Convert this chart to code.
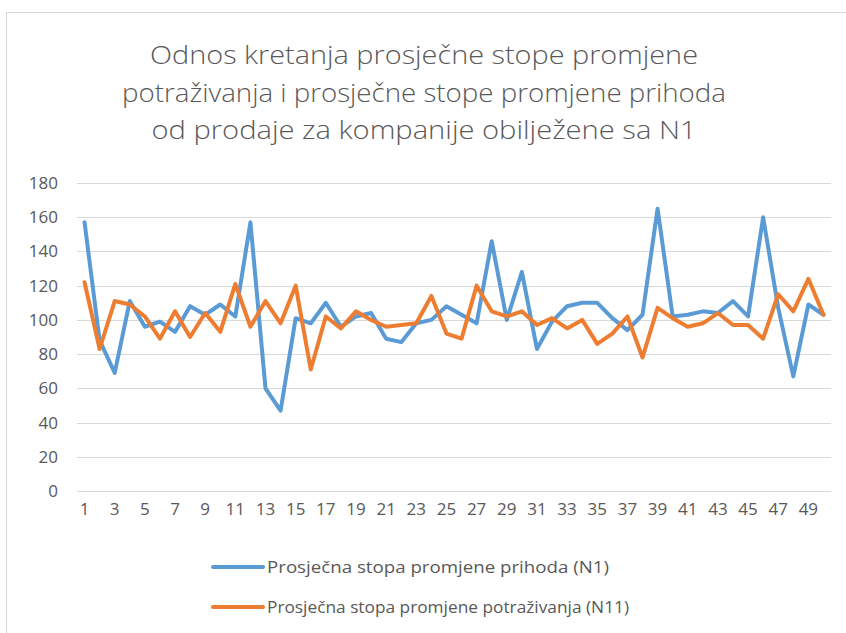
<!DOCTYPE html>
<html>
<head>
<meta charset="utf-8">
<script src="https://cdn.jsdelivr.net/npm/d3@7"></script>
<style>
  body { margin: 0; background: #fff; }
  text { font-family: "Open Sans", "DejaVu Sans", sans-serif; fill: #595959; }
</style>
</head>
<body>
<script>
const {select, scaleBand, scaleLinear, line, range} = d3;

const width = 846;
const height = 633;

// data
const titleLines = [
  "Odnos kretanja prosječne stope promjene",
  "potraživanja i prosječne stope promjene prihoda",
  "od prodaje za kompanije obilježene sa N1"
];
const titleWidths = [548, 604, 545];
const categories = range(1, 51);
const prihodi = [157, 88, 69, 111, 96, 99, 93, 108, 103, 109, 102, 157, 60, 47, 101,
  98, 110, 96, 102, 104, 89, 87, 98, 100, 108, 103, 98, 146, 100, 128,
  83, 99, 108, 110, 110, 101, 94, 103, 165, 102, 103, 105, 104, 111, 102,
  160, 107, 67, 109, 103];
const potrazivanja = [122, 83, 111, 109, 102, 89, 105, 90, 104, 93, 121, 96, 111, 98, 120,
  71, 102, 95, 105, 100, 96, 97, 98, 114, 92, 89, 120, 105, 102, 105,
  97, 101, 95, 100, 86, 92, 102, 78, 107, 101, 96, 98, 104, 97, 97,
  89, 115, 105, 124, 103];
const yTicks = [0, 20, 40, 60, 80, 100, 120, 140, 160, 180];
const series = [
  {name: "Prosječna stopa promjene prihoda (N1)", values: prihodi, color: "#5B9BD5", len: 342},
  {name: "Prosječna stopa promjene potraživanja (N11)", values: potrazivanja, color: "#ED7D31", len: 362}
];

const margin = {top: 183, right: 15, bottom: 142, left: 77};

const svg = select('body')
  .append('svg')
  .attr('width', width)
  .attr('height', height);

// chart area border
svg.append('rect')
  .attr('x', 6.5)
  .attr('y', 12.5)
  .attr('width', width)
  .attr('height', height)
  .attr('fill', 'none')
  .attr('stroke', '#d9d9d9');

svg.selectAll('.title')
  .data(titleLines)
  .enter()
  .append('text')
  .attr('class', 'title')
  .attr('x', 424)
  .attr('y', (d, i) => 64 + i * 37.5)
  .attr('text-anchor', 'middle')
  .attr('textLength', (d, i) => titleWidths[i])
  .attr('lengthAdjust', 'spacingAndGlyphs')
  .style('font-size', '25px')
  .style('font-weight', 300)
  .text(d => d);

const x = scaleBand()
  .domain(categories)
  .range([margin.left, width - margin.right]);

const y = scaleLinear()
  .domain([0, 180])
  .range([height - margin.bottom, margin.top]);

// gridlines
svg.selectAll('.grid')
  .data(yTicks)
  .enter()
  .append('line')
  .attr('x1', margin.left)
  .attr('x2', width - margin.right)
  .attr('y1', d => Math.round(y(d)) + 0.5)
  .attr('y2', d => Math.round(y(d)) + 0.5)
  .attr('stroke', '#d9d9d9')
  .attr('stroke-width', 1);

svg.selectAll('.ylab')
  .data(yTicks)
  .enter()
  .append('text')
  .attr('x', 58)
  .attr('y', d => y(d))
  .attr('dy', '0.35em')
  .attr('text-anchor', 'end')
  .style('font-size', '17px')
  .text(d => d);

svg.selectAll('.xlab')
  .data(categories.filter(d => d % 2 === 1))
  .enter()
  .append('text')
  .attr('x', d => x(d) + x.bandwidth() / 2)
  .attr('y', 509)
  .attr('dy', '0.35em')
  .attr('text-anchor', 'middle')
  .style('font-size', '17px')
  .text(d => d);

const path = line()
  .x((d, i) => x(categories[i]) + x.bandwidth() / 2)
  .y(d => y(d));

svg.selectAll('.series')
  .data(series)
  .enter()
  .append('path')
  .attr('d', d => path(d.values))
  .attr('fill', 'none')
  .attr('stroke', d => d.color)
  .attr('stroke-width', 4)
  .attr('stroke-linejoin', 'round')
  .attr('stroke-linecap', 'round');

// legend
const legend = svg.selectAll('.legend')
  .data(series)
  .enter()
  .append('g')
  .attr('transform', (d, i) => `translate(213, ${567 + i * 40})`);

legend.append('line')
  .attr('x1', 0)
  .attr('x2', 50)
  .attr('stroke', d => d.color)
  .attr('stroke-width', 4)
  .attr('stroke-linecap', 'round');

legend.append('text')
  .attr('x', 54)
  .attr('dy', '0.35em')
  .attr('textLength', d => d.len)
  .attr('lengthAdjust', 'spacingAndGlyphs')
  .style('font-size', '17px')
  .text(d => d.name);
</script>
</body>
</html>
